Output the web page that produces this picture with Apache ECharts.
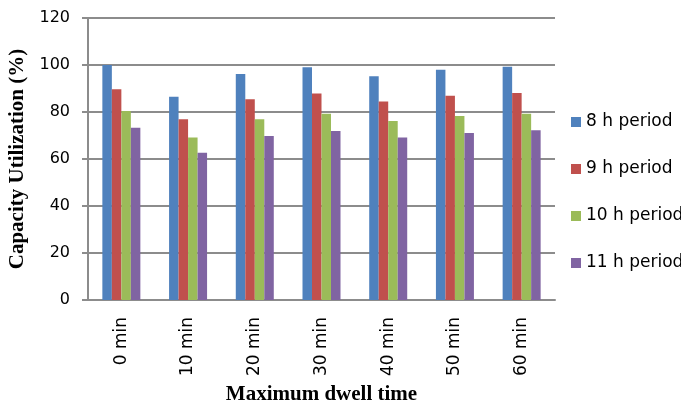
<!DOCTYPE html>
<html>
<head>
<meta charset="utf-8">
<script src="https://cdn.jsdelivr.net/npm/echarts@6/dist/echarts.min.js"></script>
<style>html,body{margin:0;padding:0;background:#fff;}#c{width:681px;height:404px;}</style>
</head>
<body>
<div id="c"></div>
<script>
var categories = ['0 min', '10 min', '20 min', '30 min', '40 min', '50 min', '60 min'];
var seriesNames = ['8 h period', '9 h period', '10 h period', '11 h period'];
var h8 = [100, 86.5, 96.2, 99.0, 95.2, 98.0, 99.3];
var h9 = [89.7, 76.9, 85.4, 87.9, 84.5, 86.9, 88.1];
var h10 = [80.4, 69.1, 76.9, 79.3, 76.2, 78.3, 79.3];
var h11 = [73.3, 62.7, 69.8, 71.9, 69.2, 71.1, 72.2];
var yTicks = [0, 20, 40, 60, 80, 100, 120];

var colors = ['#4F81BD', '#C0504D', '#9BBB59', '#8064A2'];
var values = [h8, h9, h10, h11];
var chart = echarts.init(document.getElementById('c'), null, {renderer: 'canvas'});
var series = values.map(function (v, i) {
  return {
    name: seriesNames[i], type: 'bar', data: v, barWidth: 9.5, barGap: '0%',
    itemStyle: {color: colors[i]}
  };
});
chart.setOption({
  animation: false,
  backgroundColor: '#fff',
  color: colors,
  grid: {left: 88, right: 126, top: 18, bottom: 104, outerBoundsMode: 'none', containLabel: false},
  legend: {
    orient: 'vertical', left: 566, top: 107,
    itemWidth: 10, itemHeight: 10, itemGap: 27, icon: 'rect',
    textStyle: {fontFamily: 'DejaVu Sans', fontSize: 17, color: '#000', lineHeight: 20},
    data: seriesNames
  },
  xAxis: {
    type: 'category', data: categories,
    name: 'Maximum dwell time', nameLocation: 'middle', nameGap: 81,
    nameTextStyle: {fontFamily: 'Liberation Serif', fontWeight: 'bold', fontSize: 21, color: '#000'},
    axisLine: {lineStyle: {color: '#8c8c8c', width: 2}},
    axisTick: {show: false},
    axisLabel: {rotate: 90, margin: 17, fontFamily: 'DejaVu Sans', fontSize: 17, color: '#000'}
  },
  yAxis: {
    type: 'value', min: 0, max: 120, interval: 20,
    name: 'Capacity Utilization (%)', nameLocation: 'middle', nameGap: 55,
    nameTextStyle: {fontFamily: 'Liberation Serif', fontWeight: 'bold', fontSize: 21, color: '#000'},
    axisLine: {show: true, lineStyle: {color: '#8c8c8c', width: 2}},
    axisTick: {show: true, length: 6, lineStyle: {color: '#8c8c8c', width: 2}},
    splitLine: {lineStyle: {color: '#8c8c8c', width: 2}},
    axisLabel: {
      margin: 18, fontFamily: 'DejaVu Sans', fontSize: 16, color: '#000',
      formatter: function (v) { return yTicks.indexOf(v) >= 0 ? String(v) : ''; }
    }
  },
  series: series
});
</script>
</body>
</html>
